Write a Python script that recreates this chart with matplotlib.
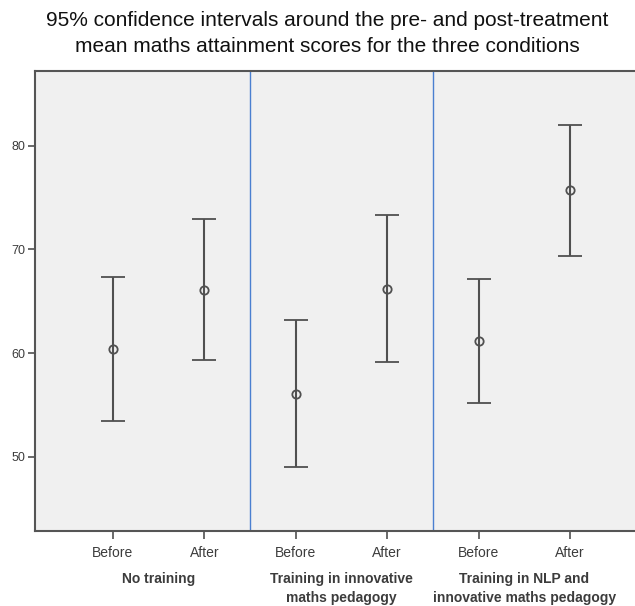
import matplotlib
matplotlib.use("Agg")
import matplotlib.pyplot as plt
from matplotlib.transforms import blended_transform_factory

plt.rcParams['font.family'] = ['Liberation Sans', 'DejaVu Sans']

groups = ["No training", "Training in innovative\nmaths pedagogy",
          "Training in NLP and\ninnovative maths pedagogy"]
tick_labels = ["Before", "After", "Before", "After", "Before", "After"]
means = [60.4, 66.1, 56.1, 66.2, 61.2, 75.7]
upper = [67.3, 72.9, 63.2, 73.3, 67.1, 82.0]
lower = [53.5, 59.3, 49.0, 59.1, 55.2, 69.4]

fig = plt.figure(figsize=(6.35, 6.06), dpi=100)
fig.patch.set_facecolor("white")
ax = fig.add_axes([35/635, 75/606, 1 - 35/635, 460/606])
ax.set_facecolor("#f0f0f0")

x = list(range(len(means)))
yerr = [[m - l for m, l in zip(means, lower)], [u - m for m, u in zip(means, upper)]]
ax.errorbar(x, means, yerr=yerr, fmt='o', color="#505050", ecolor="#505050",
            elinewidth=1.5, capsize=8.5, capthick=1.5, markersize=6,
            markerfacecolor="none", markeredgewidth=1.3, zorder=3)

for d in [1.5, 3.5]:
    ax.axvline(d, color="#4a7fd0", lw=1.0, zorder=2)

ax.set_xlim(-0.853, 5.71)
ax.set_ylim(42.85, 87.2)
ax.set_yticks([50, 60, 70, 80])
ax.set_xticks(x)
ax.set_xticklabels(tick_labels, fontsize=10, color="#3c3c3c")
ax.tick_params(axis='y', labelsize=9, labelcolor="#3c3c3c", direction='out',
               length=5, width=1.2, color="#505050", pad=2)
ax.tick_params(axis='x', direction='out', length=6, width=1.2, color="#505050", pad=4.5)

for side in ['left', 'bottom', 'top']:
    ax.spines[side].set_color("#555555")
    ax.spines[side].set_linewidth(1.5)
ax.spines['right'].set_visible(False)

trans = blended_transform_factory(ax.transData, ax.transAxes)
for i, g in enumerate(groups):
    ax.text(2 * i + 0.5, -0.089, g, transform=trans, ha='center', va='top',
            fontsize=10, fontweight='bold', color="#3c3c3c", linespacing=1.42)

fig.text(0.516, 0.982, "95% confidence intervals around the pre- and post-treatment\n"
         "mean maths attainment scores for the three conditions",
         ha='center', va='top', fontsize=15, color="#111111", linespacing=1.5)

fig.savefig("out.png", dpi=100)
